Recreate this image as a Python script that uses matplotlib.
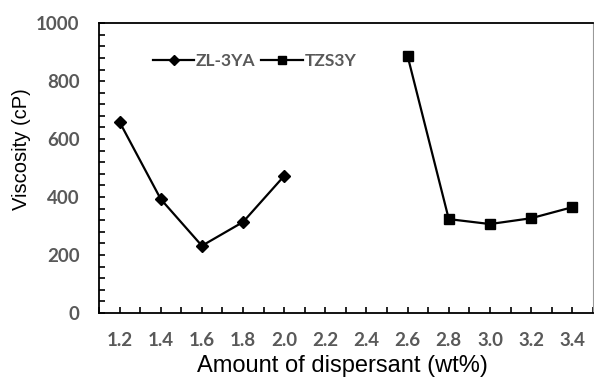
import numpy as np
import matplotlib
matplotlib.use('Agg')
import matplotlib.pyplot as plt
from matplotlib.ticker import MultipleLocator, FormatStrFormatter

# dados
x_zl = [1.2, 1.4, 1.6, 1.8, 2.0]
visc_zl = [659, 393, 232, 314, 473]
x_tzs = [2.6, 2.8, 3.0, 3.2, 3.4]
visc_tzs = [886, 324, 307, 327, 365]
nome_zl = 'ZL-3YA'
nome_tzs = 'TZS3Y'

cinza = '#595959'

fig = plt.figure(figsize=(5.94, 3.79), dpi=100)
ax = fig.add_axes([0.1667, 0.174, 0.8313, 0.765])

ax.plot(x_zl, visc_zl, color='black', lw=1.6, marker='D', ms=6.5, label=nome_zl)
ax.plot(x_tzs, visc_tzs, color='black', lw=1.6, marker='s', ms=7, label=nome_tzs)

ax.set_xlim(1.1, 3.5)
ax.set_ylim(0, 1000)
ax.xaxis.set_major_locator(MultipleLocator(0.2))
ax.xaxis.set_minor_locator(MultipleLocator(0.1))
ax.xaxis.set_major_formatter(FormatStrFormatter('%.1f'))
ax.yaxis.set_major_locator(MultipleLocator(200))
ax.yaxis.set_minor_locator(MultipleLocator(40))

ax.tick_params(axis='both', which='both', direction='in', length=4.5, width=1.2, color='black')
ax.tick_params(axis='x', which='major', pad=14)
ax.tick_params(axis='y', which='major', pad=14)
for lab in ax.get_xticklabels() + ax.get_yticklabels():
    lab.set_fontfamily('Lato')
    lab.set_fontweight('bold')
    lab.set_fontsize(13.5)
    lab.set_color(cinza)

for lado in ['left', 'bottom', 'top']:
    ax.spines[lado].set_linewidth(1.3)
ax.spines['right'].set_color('#999999')

rx = ax.set_xlabel('Amount of dispersant (wt%)', fontsize=17, family='Liberation Sans')
ax.xaxis.set_label_coords(0.493, -0.182)
rx.set_va('center')
ry = ax.set_ylabel('Viscosity (cP)', fontsize=14.5, family='Liberation Sans')
ax.yaxis.set_label_coords(-0.158, 0.566)
ry.set_va('center')

leg = ax.legend(loc='center left', bbox_to_anchor=(0.077, 0.87), ncol=2, frameon=False,
                handlelength=2.4, handletextpad=0.1, columnspacing=0.3, markerscale=0.8,
                prop={'family': 'Lato', 'weight': 'bold', 'size': 12.5})
for t in leg.get_texts():
    t.set_color(cinza)

fig.savefig('out.png', dpi=100)
